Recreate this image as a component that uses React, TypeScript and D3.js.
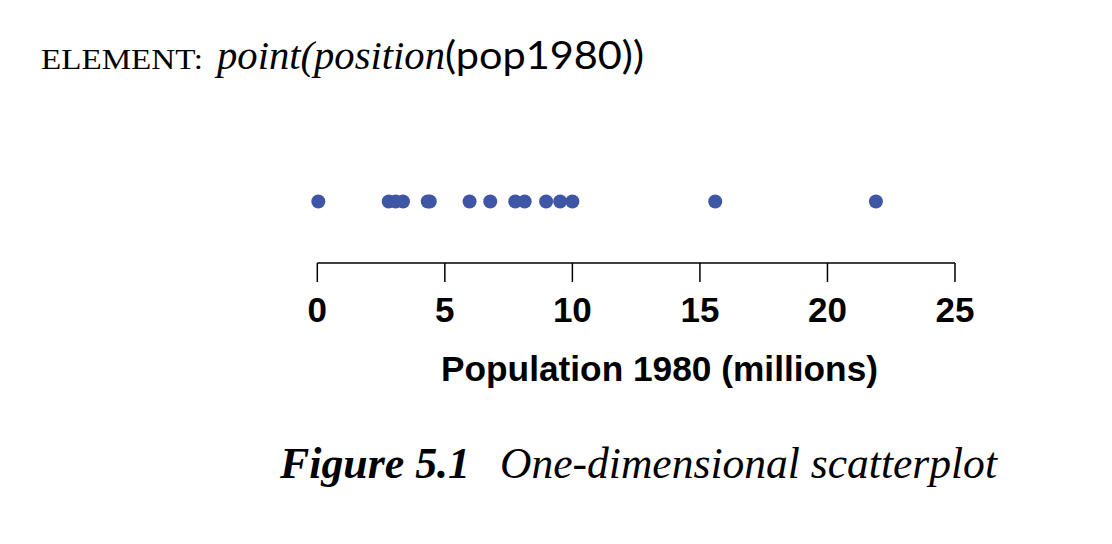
import React from "react";
import * as d3 from "d3";

// Population 1980 (millions) values
const pop1980: number[] = [0.04, 2.8, 3.07, 3.36, 4.33, 4.41, 5.97, 6.78, 7.76, 8.13, 8.97, 9.52, 10.0, 15.6, 21.9];
const tickValues: number[] = [0, 5, 10, 15, 20, 25];
const axisTitle = "Population 1980 (millions)";
const captionBold = "Figure 5.1";
const captionRest = "One-dimensional scatterplot";

const W = 1112;
const H = 544;

export default function App() {
  const x = d3.scaleLinear().domain([0, 25]).range([317.3, 955]);
  const axisY = 263;
  const dotY = 201.5;
  const serif = "'Liberation Serif', 'Times New Roman', serif";
  const sans = "'Liberation Sans', Arial, Helvetica, sans-serif";
  const gill = "Lato, 'Open Sans', sans-serif";
  return (
    <svg width={W} height={H} style={{ position: "absolute", left: 0, top: 0, background: "#fff" }}>
      <rect x={0} y={0} width={W} height={H} fill="#fff" />
      {/* Header */}
      <text x={41} y={68.5} fontFamily={serif} fontSize={29.5} fill="#000" textLength={162} lengthAdjust="spacingAndGlyphs">
        ELEMENT:
      </text>
      <text x={217} y={68.5} fontFamily={serif} fontStyle="italic" fontSize={39} fill="#000" textLength={228} lengthAdjust="spacingAndGlyphs">
        point(position
      </text>
      <text x={445} y={68.5} fontFamily={gill} fontSize={38} fill="#000" textLength={199} lengthAdjust="spacingAndGlyphs">
        (pop1980))
      </text>

      {/* Points */}
      {pop1980.map((v, i) => (
        <circle key={i} cx={x(v)} cy={dotY} r={7} fill="#3f55a5" />
      ))}

      {/* Axis */}
      <line x1={x(0)} x2={x(25)} y1={axisY} y2={axisY} stroke="#000" strokeWidth={1.5} />
      {tickValues.map((t) => (
        <g key={t}>
          <line x1={x(t)} x2={x(t)} y1={axisY} y2={282} stroke="#000" strokeWidth={1.5} />
          <text x={x(t)} y={322} textAnchor="middle" fontFamily={sans} fontWeight="bold" fontSize={35} fill="#000">
            {t}
          </text>
        </g>
      ))}
      <text x={441} y={380.5} fontFamily={sans} fontWeight="bold" fontSize={34.5} fill="#000" textLength={437} lengthAdjust="spacingAndGlyphs">
        {axisTitle}
      </text>

      {/* Caption */}
      <text x={280} y={478} fontFamily={serif} fontWeight="bold" fontStyle="italic" fontSize={45} fill="#000" textLength={190} lengthAdjust="spacingAndGlyphs">
        {captionBold}
      </text>
      <text x={500} y={478} fontFamily={serif} fontStyle="italic" fontSize={45} fill="#000" textLength={497} lengthAdjust="spacingAndGlyphs">
        {captionRest}
      </text>
    </svg>
  );
}
